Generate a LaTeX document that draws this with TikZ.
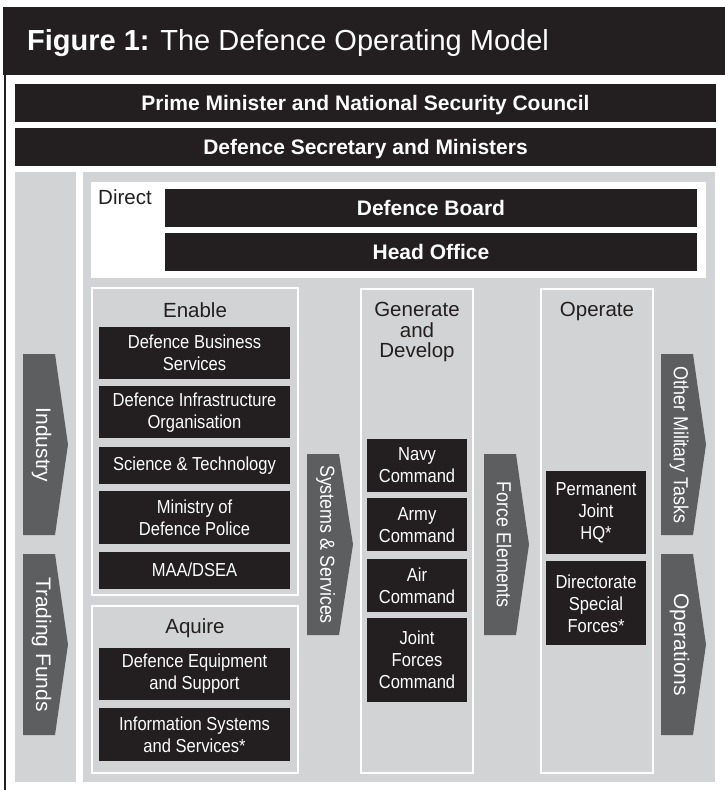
\documentclass[tikz,border=0pt]{standalone}
\usepackage{fontspec}
\setmainfont{Liberation Sans}
\newfontfamily\condfont[FakeStretch=0.88]{Liberation Sans}
\usetikzlibrary{positioning}
\definecolor{boxdark}{RGB}{35,31,32}
\definecolor{panelgray}{RGB}{209,211,212}
\definecolor{arrowgray}{RGB}{93,94,96}
\tikzstyle{barbox} = [rectangle, fill=boxdark, text=white, font=\bfseries\fontsize{21}{24}\selectfont, minimum height=38, inner sep=0pt, text height=15, text depth=0pt]
\tikzstyle{unitbox} = [rectangle, fill=boxdark, text=white, font=\condfont\fontsize{18.8}{22}\selectfont, align=center, minimum width=191, inner sep=0pt]
\tikzstyle{groupbox} = [rectangle, fill=panelgray, draw=white, line width=2pt, minimum width=206, inner sep=0pt]
\tikzstyle{headtext} = [text=boxdark, font=\fontsize{20.5}{20.5}\selectfont, align=center, inner sep=0pt]
\tikzstyle{flow} = [fill=arrowgray]
\tikzstyle{flowtext} = [text=white, rotate=-90, inner sep=0pt, text height=15, text depth=0pt, font=\fontsize{21}{21}\selectfont]
\tikzstyle{flowcond} = [flowtext, font=\condfont\fontsize{20.3}{20.3}\selectfont, text height=14.5]

\begin{document}
\begin{tikzpicture}[x=1pt, y=-1pt, node distance=7pt]
\useasboundingbox (0,0) rectangle (725,790);
\fill[boxdark] (3,7) rectangle (725,75);
\draw[boxdark, line width=2pt] (5,75) -- (5,790);
\node (title) [anchor=base west, text=white, font=\fontsize{29}{30}\selectfont, inner sep=0pt] at (27,50) {\textbf{Figure 1:} The Defence Operating Model};

\node (pm) [barbox, minimum width=701] at (365.5,103) {Prime Minister and National Security Council};
\node (dsm) [barbox, minimum width=701, below=6pt of pm] {Defence Secretary and Ministers};

\fill[panelgray] (15,172) rectangle (76,782);
\fill[panelgray] (83,172) rectangle (715,782);
\fill[white] (91,182) rectangle (706,278);
\node (direct) [headtext, anchor=base west] at (98,204) {Direct};
\node (board) [barbox, minimum width=532] at (431,208) {Defence Board};
\node (hq) [barbox, minimum width=532, below=6pt of board] {Head Office};

\node (enable) [groupbox, minimum height=307] at (195,441.5) {};
\node (aquire) [groupbox, minimum height=167] at (195,689.5) {};
\node (generate) [groupbox, minimum width=112, minimum height=484] at (417,531) {};
\node (operate) [groupbox, minimum width=112, minimum height=484] at (597,531) {};

\node (enablelbl) [headtext, anchor=base] at (195,317) {Enable};
\node (aquirelbl) [headtext, anchor=base] at (195,633) {Aquire};
\node (generatelbl) [headtext] at (417,332) {Generate\\and\\Develop};
\node (operatelbl) [headtext, anchor=base] at (597,316) {Operate};

\node (dbs) [unitbox, minimum height=52] at (194.5,353) {Defence Business\\Services};
\node (dio) [unitbox, minimum height=52, below=of dbs] {Defence Infrastructure\\Organisation};
\node (sci) [unitbox, minimum height=37, below=8pt of dio] {Science \& Technology};
\node (mdp) [unitbox, minimum height=53, below=of sci] {Ministry of\\Defence Police};
\node (maa) [unitbox, minimum height=37, below=of mdp] {MAA/DSEA};
\node (des) [unitbox, minimum height=52] at (194.5,674) {Defence Equipment\\and Support};
\node (iss) [unitbox, minimum height=53, below=8pt of des] {Information Systems\\and Services*};

\node (navy) [unitbox, minimum width=100, minimum height=53] at (417,465.5) {Navy\\Command};
\node (army) [unitbox, minimum width=100, minimum height=53, below=6pt of navy] {Army\\Command};
\node (air) [unitbox, minimum width=100, minimum height=53, below=of army] {Air\\Command};
\node (jfc) [unitbox, minimum width=100, minimum height=84, below=6pt of air] {Joint\\Forces\\Command};

\node (pjhq) [unitbox, minimum width=100, minimum height=83] at (596,512.5) {Permanent\\Joint\\HQ*};
\node (dsf) [unitbox, minimum width=100, minimum height=84, below=of pjhq] {Directorate\\Special\\Forces*};

\fill[flow] (23,354) -- (55,354) -- (68,444.5) -- (55,535) -- (23,535) -- cycle;
\fill[flow] (23,554) -- (55,554) -- (68,644.5) -- (55,735) -- (23,735) -- cycle;
\fill[flow] (307,454) -- (339,454) -- (353,544.5) -- (339,635) -- (307,635) -- cycle;
\fill[flow] (484,454) -- (516,454) -- (529,544.5) -- (516,635) -- (484,635) -- cycle;
\fill[flow] (661,354) -- (693,354) -- (706,444.5) -- (693,535) -- (661,535) -- cycle;
\fill[flow] (661,554) -- (693,554) -- (706,644.5) -- (693,735) -- (661,735) -- cycle;

\node (industry) [flowtext] at (43.5,445) {Industry};
\node (trading) [flowtext] at (43.5,644.5) {Trading Funds};
\node (systems) [flowcond] at (327.5,544.5) {Systems \& Services};
\node (force) [flowcond] at (504,544.5) {Force Elements};
\node (othertasks) [flowcond] at (681,445) {Other Military Tasks};
\node (operations) [flowtext] at (681.5,644.5) {Operations};
\end{tikzpicture}
\end{document}
